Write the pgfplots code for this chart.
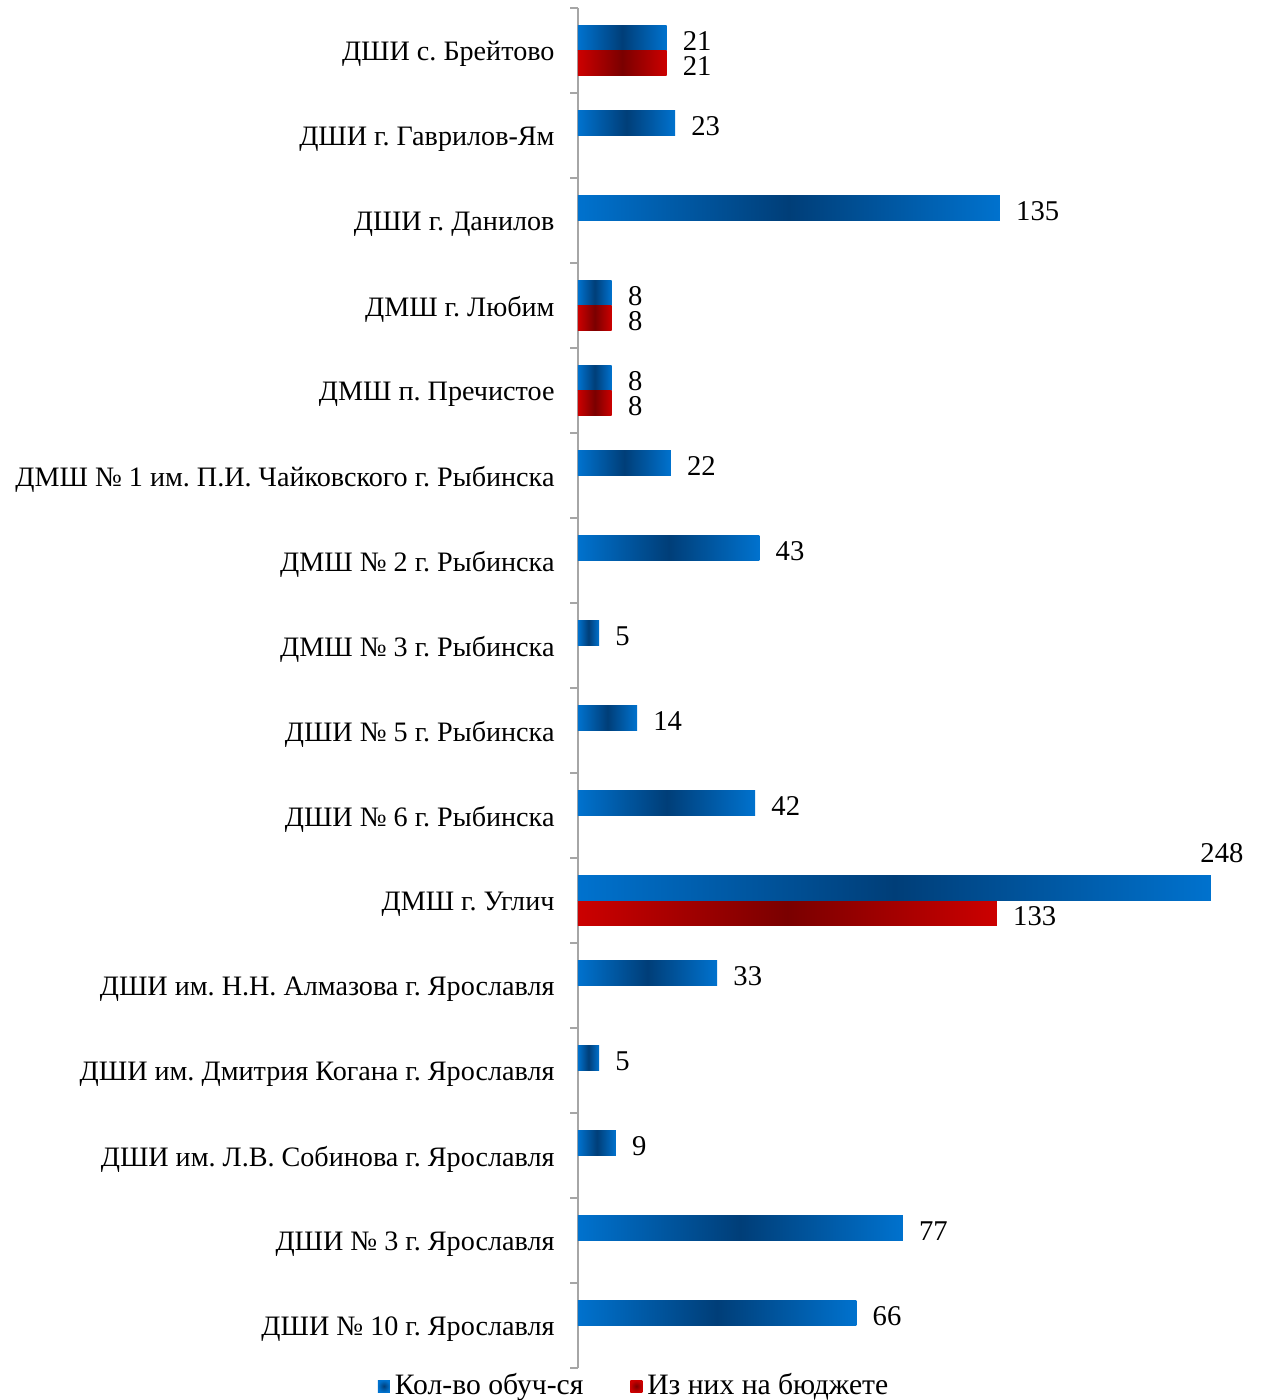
\documentclass[border=0pt]{standalone}
\usepackage{fontspec}
\setmainfont{Liberation Serif}
\usepackage{pgfplots}
\pgfplotsset{compat=1.18}
\definecolor{blueL}{RGB}{0,114,206}
\definecolor{blueD}{RGB}{0,62,120}
\definecolor{redL}{RGB}{204,0,0}
\definecolor{redD}{RGB}{122,0,0}
\definecolor{axgray}{RGB}{166,166,166}
\tikzset{
  blues/.style={draw=none, left color=blueL, right color=blueL, middle color=blueD},
  reds/.style={draw=none, left color=redL, right color=redL, middle color=redD},
}
% one path per bar so that every bar gets its own gradient
\newcommand{\bbar}[3]{\addplot[blues, bar shift=5.05pt, forget plot] coordinates {(#1,#2) [#3]};}
\newcommand{\rbar}[3]{\addplot[reds, bar shift=-5.05pt, forget plot] coordinates {(#1,#2) [#3]};}

\begin{document}
\frenchspacing
\fontsize{11.6pt}{14pt}\selectfont
\begin{tikzpicture}
\useasboundingbox (-234.1pt,-12.96pt) rectangle (276.6pt,554.1pt);
\begin{axis}[
  xbar, bar width=10.1pt,
  x=1.709pt, y=34.43pt,
  xmin=0, xmax=150, ymin=-0.5, ymax=15.5,
  enlargelimits=false, clip=false,
  axis x line=none, axis y line*=left,
  y axis line style={draw=axgray, line width=0.8pt},
  xtick=\empty,
  ytick={0,...,15},
  yticklabels={
    ДШИ № 10 г. Ярославля,
    ДШИ № 3 г. Ярославля,
    ДШИ им. Л.В. Собинова г. Ярославля,
    ДШИ им. Дмитрия Когана г. Ярославля,
    ДШИ им. Н.Н. Алмазова г. Ярославля,
    ДМШ г. Углич,
    ДШИ № 6 г. Рыбинска,
    ДШИ № 5 г. Рыбинска,
    ДМШ № 3 г. Рыбинска,
    ДМШ № 2 г. Рыбинска,
    ДМШ № 1 им. П.И. Чайковского г. Рыбинска,
    ДМШ п. Пречистое,
    ДМШ г. Любим,
    ДШИ г. Данилов,
    ДШИ г. Гаврилов-Ям,
    ДШИ с. Брейтово},
  major tick length=0pt,
  minor ytick={-0.5,0.5,...,15.5},
  minor tick length=3.2pt,
  tick align=outside,
  minor tick style={draw=axgray, line width=0.8pt},
  yticklabel style={anchor=east, inner sep=0pt, xshift=-9.3pt, yshift=-1.5pt,
    font=\fontsize{11.4pt}{14pt}\selectfont},
  point meta=explicit symbolic,
  nodes near coords,
  nodes near coords style={anchor=west, inner sep=0pt, xshift=6.4pt, yshift=-1.2pt, text=black},
  legend columns=2,
  legend style={at={(0.091,0)}, anchor=north, yshift=2pt, draw=none, fill=none,
    font=\fontsize{12pt}{14pt}\selectfont,
    /tikz/every even column/.append style={column sep=17pt}},
]
% Брейтово (these two carry the legend)
\addplot[blues, bar shift=5.05pt,
  legend image code/.code={\shade[inner color=blueD, outer color=blueL] (0pt,-2.45pt) rectangle (4.9pt,2.45pt);}]
  coordinates {(21,15) [21]};
\addplot[reds, bar shift=-5.05pt,
  legend image code/.code={\shade[inner color=redD, outer color=redL] (0pt,-2.45pt) rectangle (4.9pt,2.45pt);}]
  coordinates {(21,15) [21]};
\legend{Кол-во обуч-ся, Из них на бюджете}
% Кол-во обуч-ся (bar length, label)
\bbar{23}{14}{23}
\bbar{100}{13}{135}
\bbar{8}{12}{8}
\bbar{8}{11}{8}
\bbar{22}{10}{22}
\bbar{43}{9}{43}
\bbar{5}{8}{5}
\bbar{14}{7}{14}
\bbar{42}{6}{42}
\bbar{33}{4}{33}
\bbar{5}{3}{5}
\bbar{9}{2}{9}
\bbar{77}{1}{77}
\bbar{66}{0}{66}
% Из них на бюджете
\rbar{8}{12}{8}
\rbar{8}{11}{8}
\rbar{99.3}{5}{133}
% Углич, label above the bar end
\addplot[blues, bar shift=5.05pt, forget plot,
  every node near coord/.style={anchor=south, inner sep=0pt, xshift=4.5pt, yshift=15.2pt, text=black}]
  coordinates {(150,5) [248]};
\end{axis}
\end{tikzpicture}
\end{document}
